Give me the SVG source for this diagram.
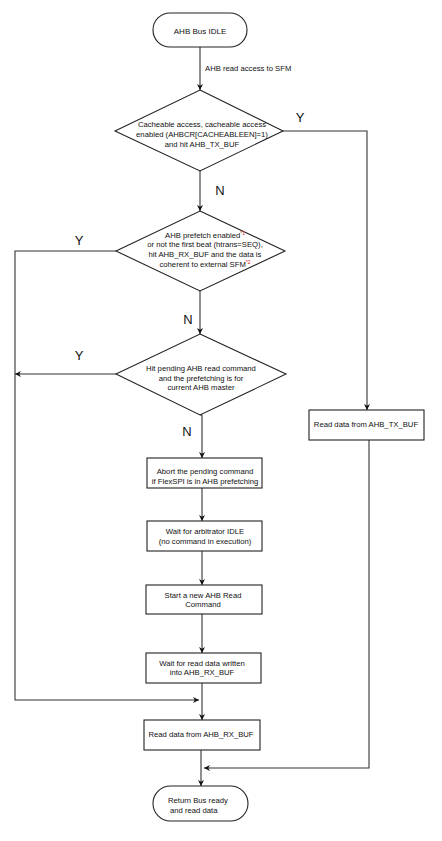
<svg xmlns="http://www.w3.org/2000/svg" width="442" height="841" viewBox="0 0 442 841">
<style>
.shape{fill:#fff;stroke:#222;stroke-width:1.1}
.t{font-family:"Liberation Sans",Arial,sans-serif;font-size:7.7px;fill:#111;text-anchor:middle}
.ts{font-family:"Liberation Sans",Arial,sans-serif;font-size:7.7px;fill:#111}
.lbl{font-family:"Liberation Sans",Arial,sans-serif;font-size:13px;fill:#111;text-anchor:middle}
.sup{font-size:5px;fill:#e02020}
.c{fill:none;stroke:#333;stroke-width:1.1}
</style>
<defs>
<marker id="ah" viewBox="0 0 10 10" refX="10" refY="5" markerWidth="6" markerHeight="6" orient="auto" markerUnits="userSpaceOnUse">
<path d="M0,0 L10,5 L0,10 L3,5 Z" fill="#111"/>
</marker>
</defs>
<rect width="442" height="841" fill="#fff"/>
<g id="connectors">
<line class="c" x1="200" y1="47" x2="200" y2="90" marker-end="url(#ah)"/>
<text class="ts" x="205" y="71">AHB read access to SFM</text>
<polyline class="c" points="283,131 367,131 367,410" marker-end="url(#ah)"/>
<text class="lbl" x="300" y="122">Y</text>
<line class="c" x1="200" y1="171" x2="200" y2="211" marker-end="url(#ah)"/>
<text class="lbl" x="220" y="195">N</text>
<polyline class="c" points="116,251 15,251 15,700 199,700" marker-end="url(#ah)"/>
<text class="lbl" x="79" y="245">Y</text>
<line class="c" x1="200" y1="291" x2="200" y2="334" marker-end="url(#ah)"/>
<text class="lbl" x="188" y="324">N</text>
<line class="c" x1="116" y1="374" x2="15" y2="374" marker-end="url(#ah)"/>
<text class="lbl" x="79" y="360">Y</text>
<polyline class="c" points="200,415 202,415 202,458" marker-end="url(#ah)"/>
<text class="lbl" x="187" y="436">N</text>
<line class="c" x1="202" y1="488" x2="202" y2="521" marker-end="url(#ah)"/>
<line class="c" x1="202" y1="551" x2="202" y2="585" marker-end="url(#ah)"/>
<line class="c" x1="202" y1="614" x2="202" y2="653" marker-end="url(#ah)"/>
<line class="c" x1="202" y1="683" x2="202" y2="720" marker-end="url(#ah)"/>
<line class="c" x1="201" y1="750" x2="201" y2="786" marker-end="url(#ah)"/>
<polyline class="c" points="369,440 369,768 204,768" marker-end="url(#ah)"/>
</g>
<g id="start">
<rect class="shape" x="153" y="13" width="94" height="34" rx="17"/>
<text class="t" x="200" y="34" style="font-size:8px">AHB Bus IDLE</text>
</g>
<g id="d1">
<polygon class="shape" points="200,90 283,131 200,171 115,131"/>
<text class="t" x="202" y="127">Cacheable access, cacheable access</text>
<text class="t" x="202" y="136.5">enabled (AHBCR[CACHEABLEEN]=1)</text>
<text class="t" x="202" y="146.5">and hit AHB_TX_BUF</text>
</g>
<g id="d2">
<polygon class="shape" points="200,211 285,251 200,291 116,251"/>
<text class="t" x="205" y="237.8">AHB prefetch enabled<tspan class="sup" dy="-2.5">*1</tspan></text>
<text class="t" x="205" y="247">or not the first beat (htrans=SEQ),</text>
<text class="t" x="205" y="256.8">hit AHB_RX_BUF and the data is</text>
<text class="t" x="205" y="266.8">coherent to external SFM<tspan class="sup" dy="-2.5">*2</tspan></text>
</g>
<g id="d3">
<polygon class="shape" points="200,334 286,374 200,415 116,374"/>
<text class="t" x="201" y="370.5">Hit pending AHB read command</text>
<text class="t" x="201" y="380.5">and the prefetching is for</text>
<text class="t" x="201" y="390">current AHB master</text>
</g>
<g id="abort">
<rect class="shape" x="147" y="458" width="115" height="30"/>
<text class="t" x="205" y="474">Abort the pending command</text>
<text class="t" x="205" y="484">if FlexSPI is in AHB prefetching</text>
</g>
<g id="wait-arb">
<rect class="shape" x="147" y="521" width="115" height="30"/>
<text class="t" x="205" y="534">Wait for arbitrator IDLE</text>
<text class="t" x="205" y="544">(no command in execution)</text>
</g>
<g id="start-read">
<rect class="shape" x="146" y="585" width="116" height="29"/>
<text class="t" x="203" y="598">Start a new AHB Read</text>
<text class="t" x="203" y="607">Command</text>
</g>
<g id="wait-data">
<rect class="shape" x="146" y="653" width="115" height="30"/>
<text class="t" x="202" y="666">Wait for read data written</text>
<text class="t" x="202" y="675">into AHB_RX_BUF</text>
</g>
<g id="read-rx">
<rect class="shape" x="144" y="720" width="116" height="30"/>
<text class="t" x="201" y="737">Read data from AHB_RX_BUF</text>
</g>
<g id="read-tx">
<rect class="shape" x="309" y="410" width="115" height="30"/>
<text class="t" x="366" y="427">Read data from AHB_TX_BUF</text>
</g>
<g id="end">
<rect class="shape" x="153" y="786" width="95" height="35" rx="17.5"/>
<text class="ts" x="168" y="803">Return Bus ready</text>
<text class="ts" x="170" y="813">and read data</text>
</g>
</svg>
